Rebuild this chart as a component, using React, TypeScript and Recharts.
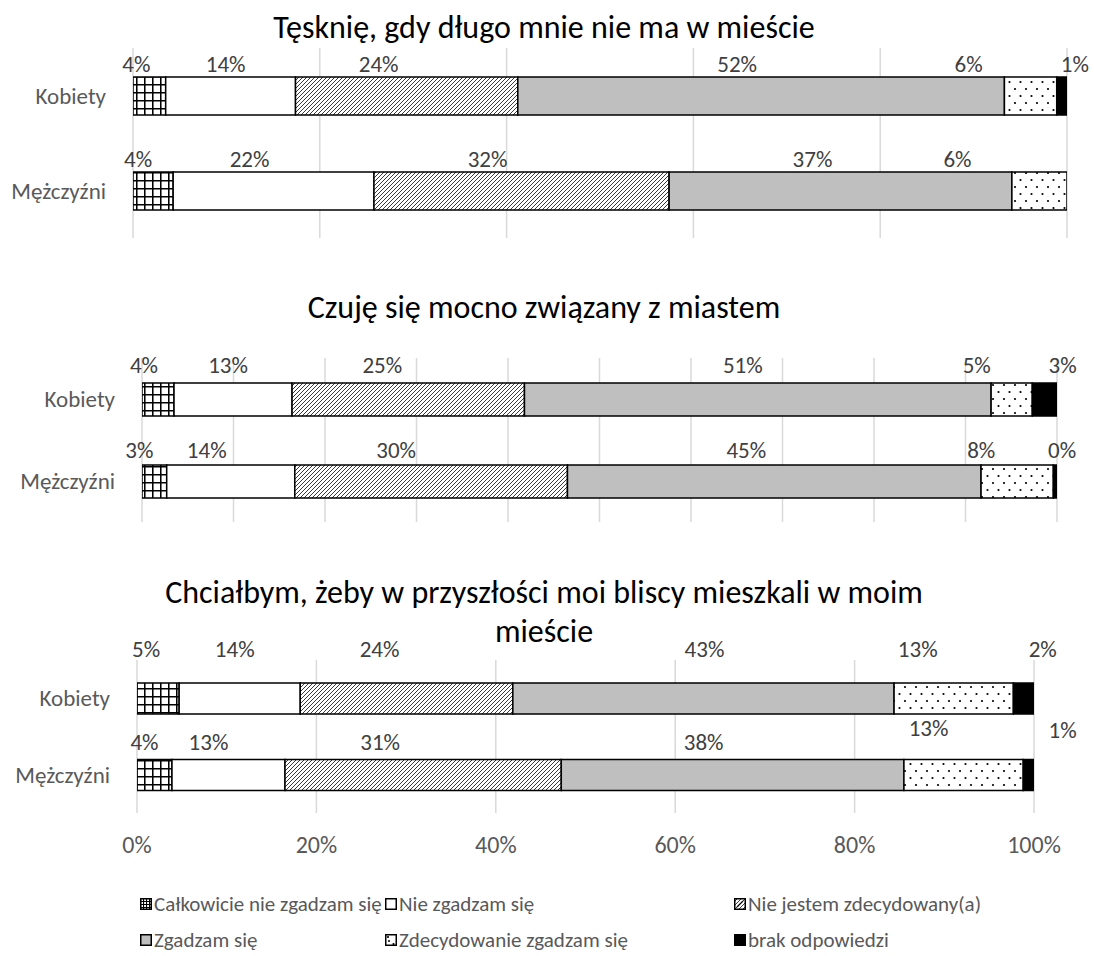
import React from "react";
import { BarChart, Bar, XAxis, YAxis, CartesianGrid, LabelList } from "recharts";

const categories = ["Kobiety", "Mężczyźni"];
const seriesNames = [
  "Całkowicie nie zgadzam się",
  "Nie zgadzam się",
  "Nie jestem zdecydowany(a)",
  "Zgadzam się",
  "Zdecydowanie zgadzam się",
  "brak odpowiedzi",
];
const panelTitles = [
  ["Tęsknię, gdy długo mnie nie ma w mieście"],
  ["Czuję się mocno związany z miastem"],
  ["Chciałbym, żeby w przyszłości moi bliscy mieszkali w moim", "mieście"],
];

const tesknieKobiety = [3.5, 13.9, 23.8, 52.1, 5.6, 1.1];
const tesknieMezczyzni = [4.3, 21.5, 31.6, 36.7, 5.9, 0];
const zwiazanyKobiety = [3.5, 12.9, 25.4, 51.0, 4.5, 2.7];
const zwiazanyMezczyzni = [2.7, 14.0, 29.8, 45.2, 7.9, 0.4];
const bliscyKobiety = [4.7, 13.5, 23.7, 42.5, 13.3, 2.3];
const bliscyMezczyzni = [3.9, 12.6, 30.8, 38.2, 13.3, 1.2];

const ticks20 = [0, 20, 40, 60, 80, 100];
const ticks10 = [0, 10, 20, 30, 40, 50, 60, 70, 80, 90, 100];

const FONT = "Carlito, Lato, 'Open Sans', sans-serif";
const fills = ["url(#pGrid)", "#ffffff", "url(#pDiag)", "#bfbfbf", "url(#pDots)", "#000000"];
const TOPPAD = 60;

function makeRows(k: number[], m: number[]) {
  return [k, m].map((vals, r) => {
    const row: any = { name: categories[r] };
    vals.forEach((v, i) => (row["s" + i] = v));
    return row;
  });
}

// label nudges (styling only): horizontal shift per row / series, vertical extra lift
const panels = [
  {
    title: panelTitles[0], titleY: [28], rows: makeRows(tesknieKobiety, tesknieMezczyzni), ticks: ticks20,
    plotLeft: 133, plotRight: 1067, plotTop: 48, plotBottom: 238, barSize: 38, labelOffsets: [13, 13], showX: false,
    labelDx: [[-13, -5, -28, -24, -62, 13], [-15, -24, -34, -28, -82, 0]],
    labelDy: [[0, 0, 0, 0, 0, 0], [0, 0, 0, 0, 0, 0]],
  },
  {
    title: panelTitles[1], titleY: [308], rows: makeRows(zwiazanyKobiety, zwiazanyMezczyzni), ticks: ticks10,
    plotLeft: 142, plotRight: 1057, plotTop: 358, plotBottom: 522, barSize: 33, labelOffsets: [18, 15.5], showX: false,
    labelDx: [[-14, -5, -26, -15, -35, 18], [-15, -24, -35, -28, -36, 7]],
    labelDy: [[0, 0, 0, 0, 0, 0], [0, 0, 0, 0, 0, 0]],
  },
  {
    title: panelTitles[2], titleY: [593, 632], rows: makeRows(bliscyKobiety, bliscyMezczyzni), ticks: ticks20,
    plotLeft: 137, plotRight: 1034, plotTop: 660, plotBottom: 813, barSize: 31, labelOffsets: [34.5, 17.5], showX: true,
    labelDx: [[-12, -5, -27, 1, -36, 19], [-10, -20, -43, -29, -35, 34]],
    labelDy: [[0, 0, 0, 0, 0, 0], [0, 0, 0, 0, 14, 12]],
  },
];

function Patterns() {
  return (
    <svg width={0} height={0} style={{ position: "absolute" }}>
      <defs>
        <pattern id="pGrid" width={8} height={8} patternUnits="userSpaceOnUse">
          <rect width={8} height={8} fill="#fff" />
          <path d="M0 0.75 H8 M0.75 0 V8" stroke="#000" strokeWidth={1.6} />
        </pattern>
        <pattern id="pDiag" width={4} height={4} patternUnits="userSpaceOnUse">
          <rect width={4} height={4} fill="#fff" />
          <path d="M-1 5 L5 -1 M-1 1 L1 -1 M3 5 L5 3" stroke="#3a3a3a" strokeWidth={1} />
        </pattern>
        <pattern id="pDots" width={11} height={14} patternUnits="userSpaceOnUse">
          <rect width={11} height={14} fill="#fff" />
          <circle cx={3} cy={3} r={1.1} fill="#000" />
          <circle cx={8.5} cy={10} r={1.1} fill="#000" />
        </pattern>
        <pattern id="pGridLegend" width={3} height={3} patternUnits="userSpaceOnUse">
          <rect width={3} height={3} fill="#fff" />
          <path d="M0 0.5 H3 M0.5 0 V3" stroke="#000" strokeWidth={1.2} />
        </pattern>
      </defs>
    </svg>
  );
}

function Panel({ p }: { p: any }) {
  const xh = p.showX ? 50 : 0;
  const h = TOPPAD + p.plotBottom - p.plotTop + xh;
  const renderLabel = (row: number, series: number) => (props: any) => {
    const { x, y, width, value, index } = props;
    if (index !== row) return null;
    if (!value) return null;
    return (
      <text
        x={Number(x) + Number(width) / 2 + p.labelDx[row][series]}
        y={Number(y) - p.labelOffsets[row] - p.labelDy[row][series]}
        textAnchor="middle"
        dominantBaseline="central"
        fill="#404040"
        fontSize={23}
        fontFamily={FONT}
      >
        {Math.round(value) + "%"}
      </text>
    );
  };
  return (
    <div style={{ position: "absolute", left: 0, top: p.plotTop - TOPPAD }}>
      <BarChart
        layout="vertical"
        width={1094}
        height={h}
        data={p.rows}
        margin={{ top: TOPPAD, right: 1094 - p.plotRight, bottom: 0, left: 0 }}
        style={{ overflow: "visible" }}
      >
        <CartesianGrid horizontal={false} stroke="#d9d9d9" strokeWidth={1.5} />
        <XAxis
          type="number"
          domain={[0, 100]}
          ticks={p.ticks}
          interval={0}
          allowDataOverflow
          hide={!p.showX}
          height={xh}
          axisLine={false}
          tickLine={false}
          tickSize={0}
          tickMargin={23}
          tickFormatter={(v: number) => v + "%"}
          tick={{ fill: "#595959", fontSize: 24, fontFamily: FONT }}
        />
        <YAxis
          type="category"
          dataKey="name"
          width={p.plotLeft}
          axisLine={false}
          tickLine={false}
          tickSize={0}
          tickMargin={27}
          tick={{ fill: "#595959", fontSize: 23, fontFamily: FONT }}
        />
        {seriesNames.map((s, i) => (
          <Bar
            key={s}
            dataKey={"s" + i}
            name={s}
            stackId="a"
            fill={fills[i]}
            stroke="#000"
            strokeWidth={1.5}
            barSize={p.barSize}
            isAnimationActive={false}
          >
            <LabelList dataKey={"s" + i} content={renderLabel(0, i)} />
            <LabelList dataKey={"s" + i} content={renderLabel(1, i)} />
          </Bar>
        ))}
      </BarChart>
    </div>
  );
}

function LegendIcon({ i }: { i: number }) {
  const f = i === 0 ? "url(#pGridLegend)" : fills[i];
  return (
    <svg width={12} height={12} style={{ display: "block" }}>
      <rect x={0.75} y={0.75} width={10.5} height={10.5} fill={f} stroke="#000" strokeWidth={1.5} />
      {i === 2 && <path d="M3 9 L9 3" stroke="#000" strokeWidth={1.2} />}
      {i === 4 && <circle cx={4} cy={7} r={1} fill="#000" />}
    </svg>
  );
}

const legendCols = [140, 385, 734];
const legendRows = [904, 940];

export default function App() {
  return (
    <div style={{ position: "absolute", left: 0, top: 0, width: 1094, height: 956, background: "#fff", fontFamily: FONT, overflow: "hidden" }}>
      <Patterns />
      {panels.map((p, pi) => (
        <React.Fragment key={pi}>
          {p.title.map((t: string, ti: number) => (
            <div
              key={ti}
              style={{
                position: "absolute", left: 0, width: 1088, textAlign: "center", top: p.titleY[ti] - 18,
                height: 36, lineHeight: "36px", fontSize: 32, color: "#000", whiteSpace: "nowrap", zIndex: 2,
              }}
            >
              {t}
            </div>
          ))}
          <Panel p={p} />
        </React.Fragment>
      ))}
      {seriesNames.map((s, i) => (
        <div
          key={s}
          style={{
            position: "absolute", left: legendCols[i % 3], top: legendRows[Math.floor(i / 3)] - 12, height: 24,
            display: "flex", alignItems: "center", gap: 2, fontSize: 21, color: "#595959", whiteSpace: "nowrap",
          }}
        >
          <LegendIcon i={i} />
          <span>{s}</span>
        </div>
      ))}
    </div>
  );
}
